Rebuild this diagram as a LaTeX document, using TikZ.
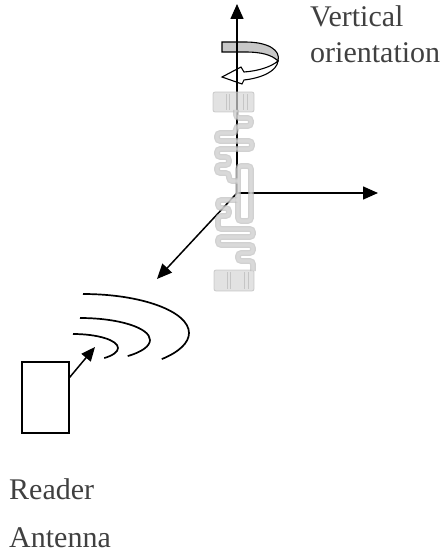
\documentclass[tikz,border=0pt]{standalone}
\usepackage{fontspec}
\setmainfont{Liberation Serif}
\usetikzlibrary{arrows.meta}
\definecolor{tubeedge}{HTML}{B9B9B9}
\definecolor{tubefill}{HTML}{DEDEDE}
\definecolor{padfill}{HTML}{D6D6D6}
\definecolor{bandgrey}{HTML}{C8C8C8}
\begin{document}
\begin{tikzpicture}[x=1pt,y=-1pt,
  axis/.style={line width=1.5pt,-{Triangle[length=15pt,width=13pt]}},
  wave/.style={line width=1.7pt},
  lbl/.style={anchor=base west,inner sep=0pt,font=\fontsize{30}{36}\selectfont,text=black!75},
  tubeout/.style={line width=5.8pt,draw=tubeedge,rounded corners=3.2pt,opacity=0.65},
  tubein/.style={line width=3.2pt,draw=tubefill,rounded corners=3.2pt,opacity=0.65},
  pad/.style={fill=padfill,draw=tubeedge,line width=0.8pt,rounded corners=2pt,opacity=0.7},
  stripe/.style={draw=tubeedge,line width=0.6pt,opacity=0.7},
  readerbox/.style={draw,line width=1.4pt,minimum width=47pt,minimum height=71pt,inner sep=0pt}]
\useasboundingbox (0,0) rectangle (445,556);

% rotation band
\path[draw=black,line width=1.1pt,fill=bandgrey]
  (222,42) -- (245,42) .. controls (268,42) and (281,50) .. (278,61)
  .. controls (272,55) and (262,52) .. (245,52) -- (222,52) -- cycle;
\path[draw=black,line width=1.1pt,fill=white]
  (278,61) .. controls (277,71) and (262,78) .. (244,80) -- (242,84) -- (222,77)
  -- (241,67) -- (244,72) .. controls (258,71) and (271,67) .. (278,61) -- cycle;

% axes
\coordinate (O) at (237,193);
\coordinate (ztip) at (237,4);
\coordinate (xtip) at (378,193);
\coordinate (dtip) at (157,279);
\draw[axis] (O) -- (ztip);
\draw[axis] (O) -- (xtip);
\draw[axis] (O) -- (dtip);

% tag: pads
\path[pad] (213,92) rectangle (254,112);
\path[pad] (214,270) rectangle (254,291);
\foreach \sx in {226,229,243,247}{
  \path[stripe] (\sx,94) -- (\sx,110);
  \path[stripe] (\sx+1,272) -- (\sx+1,289);
}
% tag: meander
\foreach \st in {tubeout,tubein}{
  \path[\st] (236,110) -- (236,118) -- (251,118) -- (251,126) -- (236,126) -- (236,133)
    -- (217,133) -- (217,141) -- (252,141) -- (252,149) -- (217,149) -- (217,157)
    -- (229,157) -- (229,165) -- (217,165) -- (217,173) -- (229,173) -- (229,181) -- (238,181);
  \path[\st] (238,166) rectangle (251,221);
  \path[\st] (238,200) -- (218,200) -- (218,208) -- (229,208) -- (229,216) -- (218,216)
    -- (218,229) -- (253,229) -- (253,237) -- (218,237) -- (218,245) -- (253,245)
    -- (253,253) -- (238,253) -- (238,261) -- (253,261) -- (253,271);
}

% waves
\draw[wave] (83,294) arc[start angle=-90,end angle=42,x radius=106,y radius=39];
\draw[wave] (80,318) arc[start angle=-90,end angle=47,x radius=70,y radius=22];
\draw[wave] (73,334) arc[start angle=-90,end angle=46,x radius=45,y radius=14];

% reader antenna
\node[readerbox] (reader) at (45.5,397.5) {};
\coordinate (wavetip) at (95,347);
\draw[line width=1.5pt,-{Triangle[length=14pt,width=12pt]}] ([yshift=-16pt]reader.north east) -- (wavetip);

% labels
\node[lbl] (v1) at (310,27) {Vertical};
\node[lbl] (v2) at (310,63) {orientation};
\node[lbl] (r1) at (9,499) {Reader};
\node[lbl] (r2) at (9,547) {Antenna};
\end{tikzpicture}
\end{document}
